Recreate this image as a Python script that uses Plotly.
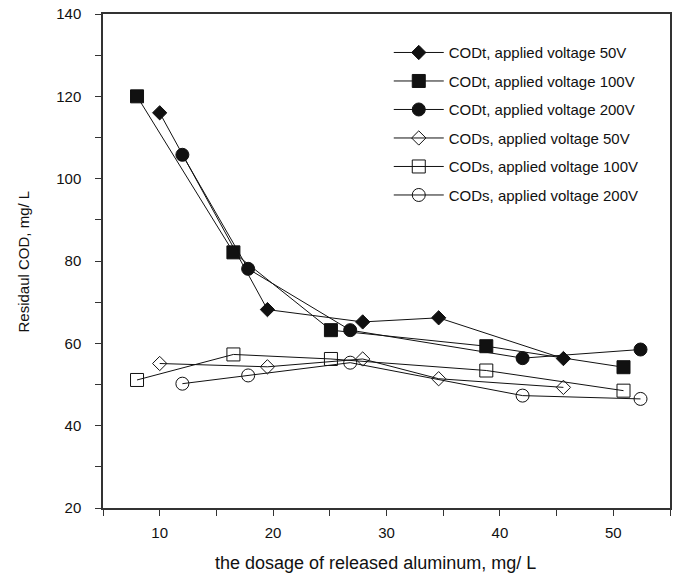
import plotly.graph_objects as go

# Data
x_50v = [10, 19.5, 27.9, 34.6, 45.6]
x_100v = [8, 16.5, 25.1, 38.8, 50.9]
x_200v = [12, 17.8, 26.8, 42.0, 52.4]

codt_50v = [116, 68.2, 65.2, 66.2, 56.3]
codt_100v = [120, 82.1, 63.2, 59.3, 54.2]
codt_200v = [105.8, 78.1, 63.2, 56.4, 58.5]

cods_50v = [55.1, 54.3, 56.2, 51.4, 49.3]
cods_100v = [51.1, 57.3, 56.2, 53.4, 48.5]
cods_200v = [50.2, 52.2, 55.3, 47.3, 46.5]

names = [
    "CODt, applied voltage 50V",
    "CODt, applied voltage 100V",
    "CODt, applied voltage 200V",
    "CODs, applied voltage 50V",
    "CODs, applied voltage 100V",
    "CODs, applied voltage 200V",
]
x_title = "the dosage of released aluminum, mg/ L"
y_title = "Residaul COD, mg/ L"

xs = [x_50v, x_100v, x_200v, x_50v, x_100v, x_200v]
ys = [codt_50v, codt_100v, codt_200v, cods_50v, cods_100v, cods_200v]
symbols = ["diamond", "square", "circle", "diamond-open", "square-open", "circle-open"]
sizes = [11, 13, 13, 11, 13, 13]

FONT = "Liberation Sans, Arial, Helvetica"

fig = go.Figure()
for i in range(6):
    fig.add_trace(go.Scatter(
        x=xs[i], y=ys[i], name=names[i], mode="lines+markers",
        legendgroup=str(i),
        line=dict(color="#111111", width=1),
        marker=dict(symbol=symbols[i], size=sizes[i], color="#111111",
                    line=dict(color="#111111", width=1)),
    ))

axis_common = dict(
    showline=True, linecolor="#333333", linewidth=1.5, mirror=True,
    ticks="outside", ticklen=6, tickcolor="#333333", tickwidth=1,
    showgrid=False, zeroline=False, automargin=False,
    ticklabeloverflow="allow",
    tickfont=dict(family=FONT, size=15, color="#111111"),
)

fig.update_layout(
    width=678, height=577,
    margin=dict(l=103, r=8, t=14, b=69),
    paper_bgcolor="white", plot_bgcolor="white",
    font=dict(family=FONT, color="#111111"),
    xaxis=dict(range=[5, 55], dtick=10, tick0=0, ticklabelstandoff=4,
               minor=dict(dtick=5, tick0=0, ticks="outside", ticklen=6, tickcolor="#333333"),
               **axis_common),
    yaxis=dict(range=[20, 140], dtick=20, tick0=0, ticklabelstandoff=11,
               minor=dict(dtick=10, tick0=0, ticks="outside", ticklen=6, tickcolor="#333333"),
               **axis_common),
    legend=dict(x=0.504, y=0.955, xanchor="left", yanchor="top",
                bgcolor="rgba(0,0,0,0)", tracegroupgap=6,
                font=dict(size=15, family=FONT), itemwidth=50),
    annotations=[
        dict(text=x_title, xref="paper", yref="paper", x=0.4806, y=-0.111,
             xanchor="center", yanchor="middle", showarrow=False,
             font=dict(size=18, family=FONT, color="#111111")),
        dict(text=y_title, xref="paper", yref="paper", x=-0.141, y=0.499,
             xanchor="center", yanchor="middle", showarrow=False, textangle=-90,
             font=dict(size=15, family=FONT, color="#111111")),
    ],
)

fig.write_html(
    "out.html",
    config={"displayModeBar": False},
    post_script="document.body.style.margin='0px';document.body.style.overflow='hidden';",
)
